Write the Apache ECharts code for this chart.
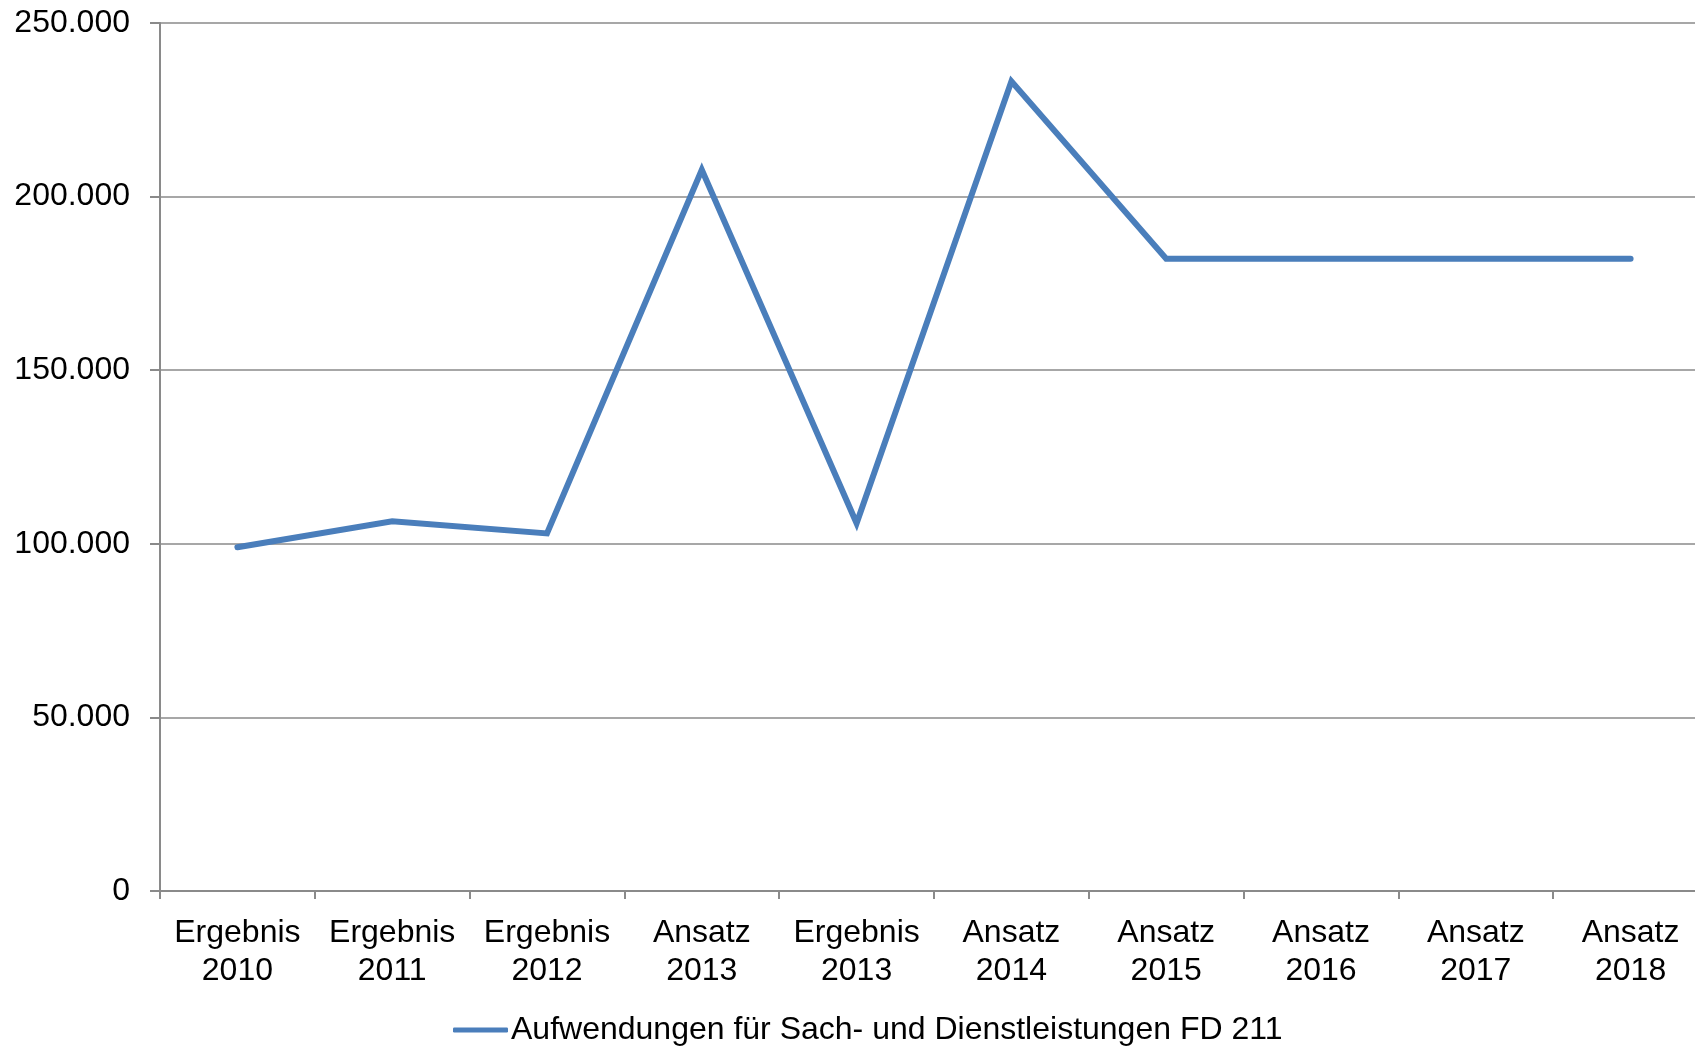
<!DOCTYPE html>
<html>
<head>
<meta charset="utf-8">
<title>Aufwendungen für Sach- und Dienstleistungen FD 211</title>
<script src="https://cdn.jsdelivr.net/npm/echarts@6/dist/echarts.min.js"></script>
<style>
  html, body { margin: 0; padding: 0; background: #ffffff; }
  #chart { width: 1695px; height: 1046px; }
</style>
</head>
<body>
<div id="chart"></div>
<script>
// Haushaltsstellen (Ergebnis = Ist, Ansatz = Plan)
const categories = [
  'Ergebnis\n2010', 'Ergebnis\n2011', 'Ergebnis\n2012', 'Ansatz\n2013', 'Ergebnis\n2013',
  'Ansatz\n2014', 'Ansatz\n2015', 'Ansatz\n2016', 'Ansatz\n2017', 'Ansatz\n2018'
];
const seriesName = 'Aufwendungen für Sach- und Dienstleistungen FD 211';
const values = [99000, 106500, 103000, 207700, 105900, 233200, 182100, 182100, 182100, 182100];
const yMin = 0;
const yMax = 250000;
const yStep = 50000;

const axisGray = '#8a8a8a';
const lineBlue = '#4a7ebb';
const fontFamily = '"Liberation Sans", Arial, Helvetica, sans-serif';

// Tausendertrennzeichen als Punkt
function formatThousands(v) {
  return String(v).replace(/\B(?=(\d{3})+(?!\d))/g, '.');
}

const chart = echarts.init(document.getElementById('chart'), null, { renderer: 'canvas' });
chart.setOption({
  animation: false,
  backgroundColor: '#ffffff',
  textStyle: { fontFamily: fontFamily },
  // the plot area runs a little past the right edge of the canvas
  grid: {
    left: 160, top: 23, right: -13, bottom: 155,
    containLabel: false,
    outerBoundsMode: 'none'
  },
  legend: {
    data: [seriesName],
    left: 453,
    top: 1014,
    itemWidth: 55,
    itemHeight: 5,
    itemGap: 0,
    icon: 'roundRect',
    padding: 0,
    textStyle: { fontSize: 32, color: '#000000', fontFamily: fontFamily, padding: [0, 0, 0, -2] }
  },
  xAxis: {
    type: 'category',
    data: categories,
    boundaryGap: true,
    axisLine: { show: true, lineStyle: { color: axisGray, width: 2 } },
    axisTick: { show: true, inside: false, length: 8, lineStyle: { color: axisGray, width: 2 } },
    axisLabel: {
      interval: 0,
      margin: 23,
      fontSize: 32,
      lineHeight: 38,
      color: '#000000',
      fontFamily: fontFamily,
      align: 'center'
    },
    splitLine: { show: false }
  },
  yAxis: {
    type: 'value',
    min: yMin,
    max: yMax,
    interval: yStep,
    axisLine: { show: true, lineStyle: { color: axisGray, width: 2 } },
    axisTick: { show: true, length: 10, lineStyle: { color: axisGray, width: 2 } },
    axisLabel: {
      margin: 30,
      fontSize: 32,
      color: '#000000',
      fontFamily: fontFamily,
      formatter: formatThousands
    },
    splitLine: { show: true, lineStyle: { color: axisGray, width: 1.7 } }
  },
  series: [{
    name: seriesName,
    type: 'line',
    data: values,
    symbol: 'none',
    smooth: false,
    lineStyle: { color: lineBlue, width: 6, cap: 'round', join: 'miter' },
    itemStyle: { color: lineBlue }
  }]
});
</script>
</body>
</html>
